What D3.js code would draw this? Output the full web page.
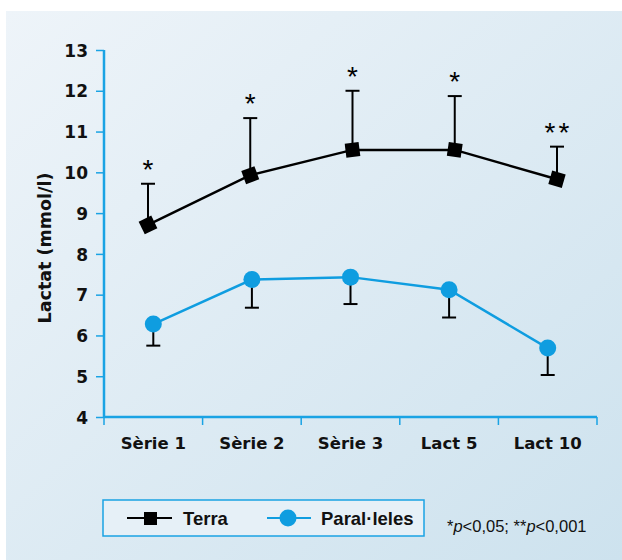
<!DOCTYPE html>
<html>
<head>
<meta charset="utf-8">
<script src="https://cdn.jsdelivr.net/npm/d3@7"></script>
<style>
  body { margin: 0; background: #fff; }
  text { font-family: "Liberation Sans", Arial, sans-serif; }
</style>
</head>
<body>
<div id="chart-area"></div>
<script>
// Data
let categories = ['Sèrie 1', 'Sèrie 2', 'Sèrie 3', 'Lact 5', 'Lact 10'];
let terraMean = [8.71, 9.93, 10.55, 10.55, 9.83];
let terraUpper = [9.72, 11.33, 12.0, 11.87, 10.63];
let paralMean = [6.28, 7.37, 7.43, 7.12, 5.69];
let paralLower = [5.75, 6.68, 6.77, 6.44, 5.03];
let signif = ['*', '*', '*', '*', '**'];
let yTicks = [4, 5, 6, 7, 8, 9, 10, 11, 12, 13];

let W = 622, H = 560;
let margin = { top: 50, right: 25, bottom: 143, left: 104 };
let width = W - margin.left - margin.right,
  height = H - margin.top - margin.bottom;

let axisFont = '"DejaVu Sans", Verdana, sans-serif';

let root = d3.select('#chart-area').append('svg')
  .attr('width', W).attr('height', H);

// background gradient
let grad = root.append('defs').append('linearGradient')
  .attr('id', 'bg').attr('x1', '0%').attr('y1', '0%').attr('x2', '100%').attr('y2', '100%');
grad.append('stop').attr('offset', '0%').attr('stop-color', '#eef4f9');
grad.append('stop').attr('offset', '100%').attr('stop-color', '#cde2ee');
root.append('rect').attr('x', 6).attr('y', 11).attr('width', W - 6).attr('height', H - 11)
  .attr('fill', 'url(#bg)');

let svg = root.append('g')
  .attr('transform', 'translate(' + margin.left + ',' + margin.top + ')');

// Scales
let x = d3.scaleBand().domain(categories).range([0, width]);
let xTerra = d3.scalePoint().domain(categories).range([44, 453]);
let y = d3.scaleLinear().domain([4, 13]).range([height, 0]);

let blue = '#0f9de0';
let axisBlue = '#1aa3e4';

// Axes
let yAxis = svg.append('g').call(d3.axisLeft(y).tickValues(yTicks).tickSize(8).tickPadding(8));
let xAxis = svg.append('g').attr('transform', `translate(0, ${height})`)
  .call(d3.axisBottom(x).tickSize(0).tickPadding(20));
xAxis.selectAll('.tick').append('line')
  .attr('x1', -x.bandwidth() / 2).attr('x2', -x.bandwidth() / 2)
  .attr('y1', 0).attr('y2', 8).attr('stroke', axisBlue).attr('stroke-width', 1.5);
xAxis.append('line').attr('x1', width).attr('x2', width).attr('y1', 0).attr('y2', 8)
  .attr('stroke', axisBlue).attr('stroke-width', 1.5);
[yAxis, xAxis].forEach(a => {
  a.select('.domain').attr('stroke', axisBlue).attr('stroke-width', 2.5)
    .attr('d', a === yAxis ? `M0,0V${height}` : `M0,0H${width}`);
  a.selectAll('.tick line').attr('stroke', axisBlue).attr('stroke-width', 1.5);
  a.selectAll('.tick text').attr('fill', '#111').style('font-size', '17px').style('font-weight', 'bold')
    .style('font-family', axisFont);
});
yAxis.selectAll('.tick text').attr('dy', '0.36em');
xAxis.selectAll('.tick text').style('font-size', '16.5px');

// Axis label
svg.append('text')
  .attr('transform', `translate(-53, 198) rotate(-90)`)
  .attr('text-anchor', 'middle')
  .style('font-size', '17.5px').style('font-weight', 'bold').style('font-family', axisFont)
  .attr('fill', '#111')
  .text('Lactat (mmol/l)');

// Terra error bars
categories.forEach((c, i) => {
  let cx = xTerra(c);
  svg.append('line').attr('x1', cx).attr('x2', cx)
    .attr('y1', y(terraMean[i])).attr('y2', y(terraUpper[i]))
    .attr('stroke', '#000').attr('stroke-width', 2);
  svg.append('line').attr('x1', cx - 7).attr('x2', cx + 7)
    .attr('y1', y(terraUpper[i])).attr('y2', y(terraUpper[i]))
    .attr('stroke', '#000').attr('stroke-width', 2);
  svg.append('text').attr('x', cx).attr('y', y(terraUpper[i]) - 5)
    .attr('text-anchor', 'middle').style('font-size', '28px')
    .style('letter-spacing', signif[i].length > 1 ? '3px' : '0px')
    .attr('dx', signif[i].length > 1 ? 1.5 : 0)
    .attr('fill', '#000')
    .text(signif[i]);
});

// Paral·leles error bars
categories.forEach((c, i) => {
  let cx = x(c) + x.bandwidth() / 2;
  svg.append('line').attr('x1', cx).attr('x2', cx)
    .attr('y1', y(paralMean[i])).attr('y2', y(paralLower[i]))
    .attr('stroke', '#000').attr('stroke-width', 2);
  svg.append('line').attr('x1', cx - 7).attr('x2', cx + 7)
    .attr('y1', y(paralLower[i])).attr('y2', y(paralLower[i]))
    .attr('stroke', '#000').attr('stroke-width', 2);
});

// Lines
let terraPts = categories.map((c, i) => [xTerra(c), y(terraMean[i])]);
let paralPts = categories.map((c, i) => [x(c) + x.bandwidth() / 2, y(paralMean[i])]);
svg.append('path').attr('d', d3.line()(terraPts)).attr('fill', 'none')
  .attr('stroke', '#000').attr('stroke-width', 2.5);
svg.append('path').attr('d', d3.line()(paralPts)).attr('fill', 'none')
  .attr('stroke', blue).attr('stroke-width', 2.5);

// Terra markers rotated along the line
terraPts.forEach((p, i) => {
  let a = terraPts[Math.max(0, i - 1)], b = terraPts[Math.min(terraPts.length - 1, i + 1)];
  let ang = Math.atan2(b[1] - a[1], b[0] - a[0]) * 180 / Math.PI;
  svg.append('rect').attr('x', -7).attr('y', -7).attr('width', 14).attr('height', 14)
    .attr('fill', '#000')
    .attr('transform', `translate(${p[0]},${p[1]}) rotate(${ang})`);
});

// Paral·leles markers
svg.selectAll('.point').data(paralPts).enter().append('circle')
  .attr('class', 'point')
  .attr('cx', d => d[0]).attr('cy', d => d[1]).attr('r', 8.5)
  .attr('fill', blue);

// Legend
let lg = root.append('g');
lg.append('rect').attr('x', 103).attr('y', 500).attr('width', 321).attr('height', 36)
  .attr('fill', '#e6f0f7').attr('stroke', axisBlue).attr('stroke-width', 1.5);
lg.append('line').attr('x1', 127).attr('x2', 172).attr('y1', 518).attr('y2', 518)
  .attr('stroke', '#000').attr('stroke-width', 2);
lg.append('rect').attr('x', 144).attr('y', 512).attr('width', 13).attr('height', 13).attr('fill', '#000');
lg.append('text').attr('x', 183).attr('y', 525).style('font-size', '18.5px').style('font-weight', 'bold')
  .attr('fill', '#111').text('Terra');
lg.append('line').attr('x1', 267).attr('x2', 311).attr('y1', 518).attr('y2', 518)
  .attr('stroke', blue).attr('stroke-width', 2);
lg.append('circle').attr('cx', 288).attr('cy', 518).attr('r', 8.5).attr('fill', blue);
lg.append('text').attr('x', 321).attr('y', 525).style('font-size', '18.5px').style('font-weight', 'bold')
  .attr('fill', '#111').text('Paral·leles');

// Significance note
let note = root.append('text').attr('x', 447).attr('y', 532).style('font-size', '16.5px').attr('fill', '#111');
note.append('tspan').text('*');
note.append('tspan').style('font-style', 'italic').text('p');
note.append('tspan').text('<0,05; **');
note.append('tspan').style('font-style', 'italic').text('p');
note.append('tspan').text('<0,001');
</script>
</body>
</html>
